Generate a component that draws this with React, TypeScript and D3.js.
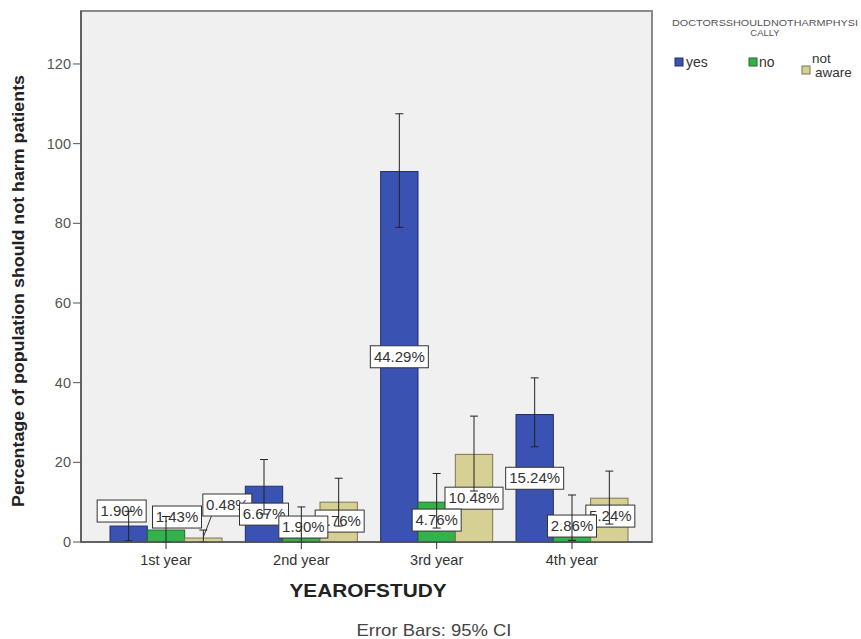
import React from 'react';
import * as d3 from 'd3';

// counts out of 210 respondents
const years = ['1st year', '2nd year', '3rd year', '4th year'];
const answers = ['yes', 'no', 'not aware'];
const yesCounts = [4, 14, 93, 32];
const noCounts = [3, 4, 10, 6];
const notAwareCounts = [1, 10, 22, 11];
const yesLabels = ['1.90%', '6.67%', '44.29%', '15.24%'];
const noLabels = ['1.43%', '1.90%', '4.76%', '2.86%'];
const notAwareLabels = ['0.48%', '4.76%', '10.48%', '5.24%'];
// 95% CI (low, high)
const yesCI = [[0.3, 7.7], [7, 20.7], [79, 107.5], [23.9, 41.2]];
const noCI = [[0, 6.4], [0, 8.8], [3.5, 17.2], [0.4, 11.8]];
const notAwareCI = [[0, 3], [4, 16], [12.8, 31.6], [4.5, 17.8]];
const yTicks = [0, 20, 40, 60, 80, 100, 120];

const W = 861;
const H = 639;
const FONT = 'Arial, "Liberation Sans", sans-serif';
const colors = ['#3a53b2', '#35b04b', '#d7d095'];
const strokes = ['#1f2f6e', '#1f6b2b', '#7d7750'];

// manual nudges (px) for crowded labels, [series][year]
const labelNudge = [
  [[-7, -23], [0, 0], [0, 0], [0, 0]],
  [[11, -19], [2, -7], [0, -2], [0, -4]],
  [[24, -35], [1, -1], [0, 0], [1, -4]],
];

export default function App() {
  const plot = { left: 81, right: 652, top: 11, bottom: 542 };
  const series = [yesCounts, noCounts, notAwareCounts];
  const labels = [yesLabels, noLabels, notAwareLabels];
  const cis = [yesCI, noCI, notAwareCI];

  const x = d3.scalePoint().domain(years).range([166, 572]);
  const inner = d3.scaleBand().domain(answers).range([-56, 56]);
  const y = d3.scaleLinear().domain([0, 133.3]).range([plot.bottom, plot.top]);
  const bw = inner.bandwidth();

  const bars = [];
  const errs = [];
  const labs = [];
  series.forEach((vals, si) => {
    vals.forEach((v, yi) => {
      const cx = x(years[yi]) + inner(answers[si]) + bw / 2;
      bars.push({ si, x0: x(years[yi]) + inner(answers[si]), v });
      errs.push({ cx, lo: cis[si][yi][0], hi: cis[si][yi][1] });
      const [dx, dy] = labelNudge[si][yi];
      labs.push({
        text: labels[si][yi],
        cx: cx + dx,
        cy: y(v / 2) + dy,
        ax: cx,
        ay: y(v),
        lead: Math.abs(dy) > 30,
      });
    });
  });
  labs.sort((a, b) => a.cy - b.cy);

  return (
    <svg
      width={W}
      height={H}
      style={{ position: 'absolute', left: 0, top: 0, background: '#fff' }}
      fontFamily={FONT}
    >
      <rect
        x={plot.left}
        y={plot.top}
        width={plot.right - plot.left}
        height={plot.bottom - plot.top}
        fill="#f0f0f0"
        stroke="#8a8a8a"
        strokeWidth={2}
      />
      {bars.map((b, i) => (
        <rect
          key={i}
          x={b.x0}
          y={y(b.v)}
          width={bw}
          height={y(0) - y(b.v)}
          fill={colors[b.si]}
          stroke={strokes[b.si]}
          strokeWidth={1}
        />
      ))}
      {labs.map((l, i) => {
        const w = l.text.length * 9 + 4;
        return (
          <g key={i}>
            {l.lead && (
              <line x1={l.cx - w / 2 + 9} y1={l.cy + 10} x2={l.ax} y2={l.ay - 1} stroke="#333" />
            )}
            <rect x={l.cx - w / 2} y={l.cy - 11} width={w} height={22} fill="#fff" stroke="#333" />
            <text x={l.cx} y={l.cy + 5} textAnchor="middle" fontSize={15} fill="#333">
              {l.text}
            </text>
          </g>
        );
      })}
      {errs.map((e, i) => (
        <g key={i} stroke="#222" strokeWidth={1}>
          <line x1={e.cx} x2={e.cx} y1={y(e.lo)} y2={y(e.hi)} />
          <line x1={e.cx - 4} x2={e.cx + 4} y1={y(e.lo)} y2={y(e.lo)} />
          <line x1={e.cx - 4} x2={e.cx + 4} y1={y(e.hi)} y2={y(e.hi)} />
        </g>
      ))}
      {/* axes */}
      <line x1={plot.left} x2={plot.left} y1={plot.top} y2={plot.bottom} stroke="#555" strokeWidth={1.5} />
      <line x1={plot.left} x2={plot.right} y1={plot.bottom} y2={plot.bottom} stroke="#555" strokeWidth={1.5} />
      {yTicks.map((t) => (
        <g key={t}>
          <line x1={plot.left - 8} x2={plot.left} y1={y(t)} y2={y(t)} stroke="#555" />
          <text x={plot.left - 10} y={y(t) + 5} textAnchor="end" fontSize={14.5} fill="#555">
            {t}
          </text>
        </g>
      ))}
      {years.map((c) => (
        <g key={c}>
          <line x1={x(c)} x2={x(c)} y1={plot.bottom} y2={plot.bottom + 7} stroke="#333" />
          <text x={x(c)} y={plot.bottom + 23} textAnchor="middle" fontSize={14.5} fill="#333">
            {c}
          </text>
        </g>
      ))}
      <text
        transform="translate(24,291) rotate(-90)"
        textAnchor="middle"
        fontSize={17}
        fontWeight="bold"
        fill="#222"
        textLength={432}
        lengthAdjust="spacingAndGlyphs"
      >
        Percentage of population should not harm patients
      </text>
      <text
        x={368}
        y={597}
        textAnchor="middle"
        fontSize={18}
        fontWeight="bold"
        fill="#222"
        textLength={157}
        lengthAdjust="spacingAndGlyphs"
      >
        YEAROFSTUDY
      </text>
      <text x={434} y={636} textAnchor="middle" fontSize={17} fill="#444" textLength={155} lengthAdjust="spacingAndGlyphs">
        Error Bars: 95% CI
      </text>
      {/* legend */}
      <text x={765} y={26} textAnchor="middle" fontSize={9.5} fill="#555" textLength={186} lengthAdjust="spacingAndGlyphs">
        DOCTORSSHOULDNOTHARMPHYSI
      </text>
      <text x={765} y={36} textAnchor="middle" fontSize={9.5} fill="#555">
        CALLY
      </text>
      <rect x={675} y={58} width={8} height={8} fill={colors[0]} stroke={strokes[0]} />
      <text x={686} y={67} fontSize={14} fill="#333">yes</text>
      <rect x={749} y={58} width={8} height={8} fill={colors[1]} stroke={strokes[1]} />
      <text x={759} y={67} fontSize={14} fill="#333">no</text>
      <rect x={802} y={66} width={8} height={8} fill={colors[2]} stroke={strokes[2]} />
      <text x={812} y={63} fontSize={13.5} fill="#333">not</text>
      <text x={815} y={77} fontSize={13.5} fill="#333">aware</text>
    </svg>
  );
}
